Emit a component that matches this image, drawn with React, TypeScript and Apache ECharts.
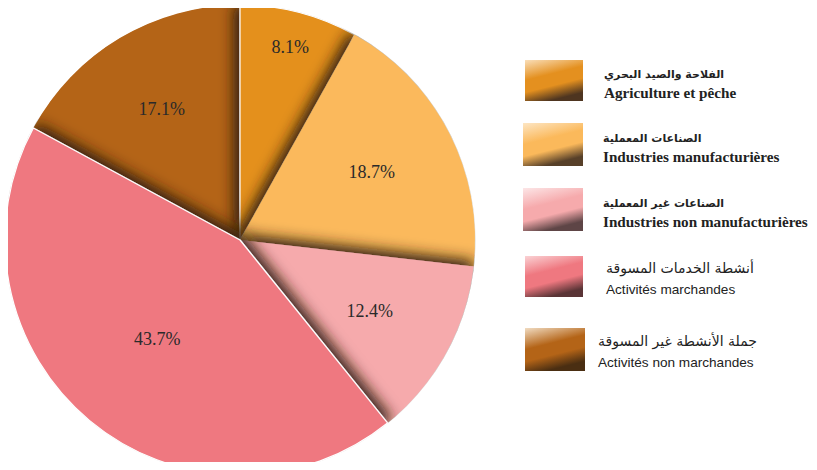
import React, { useEffect, useRef } from "react";
import * as echarts from "echarts";

const categories = [
  "Agriculture et pêche",
  "Industries manufacturières",
  "Industries non manufacturières",
  "Activités marchandes",
  "Activités non marchandes",
];
const arabicNames = [
  "الفلاحة والصيد البحري",
  "الصناعات المعملية",
  "الصناعات غير المعملية",
  "أنشطة الخدمات المسوقة",
  "جملة الأنشطة غير المسوقة",
];
const shares = [8.1, 18.7, 12.4, 43.7, 17.1];

// styling
const baseColors = ["#E4901F", "#FBB95B", "#F6AAAC", "#EF7880", "#B46417"];
const lightColors = ["#FBE3C2", "#FDE6C4", "#FCE6E7", "#FBD8DA", "#F1DCC2"];
const darkColors = ["#4E3520", "#574029", "#5E4546", "#5A3436", "#4A2E12"];
const labelRadius = [0.85, 0.63, 0.63, 0.55, 0.65];
const legendTops = [58, 123, 188, 254, 328];
const legendLefts = [523, 523, 523, 523, 525];
// the last slice is painted first so that its neighbours' shading falls on it
const drawOrder = [4, 0, 1, 2, 3];
const slicesWithBorder = [0, 3];
const SHADE_OFFSET = 6;
const SHADE_BLUR = 14;

const CX = 240;
const CY = 240;
const R = 235;

export default function App() {
  const ref = useRef<HTMLDivElement>(null);
  useEffect(() => {
    if (!ref.current) return;
    const chart = echarts.init(ref.current, null, { renderer: "svg" });
    const swatch = (i: number) =>
      new echarts.graphic.LinearGradient(0, 0, 0.35, 1, [
        { offset: 0, color: lightColors[i] },
        { offset: 0.45, color: baseColors[i] },
        { offset: 0.7, color: baseColors[i] },
        { offset: 1, color: darkColors[i] },
      ]);
    const legends = categories.map((name, i) => {
      const serifStyle = i < 3;
      return {
        data: [{ name, itemStyle: { color: swatch(i) } }],
        left: legendLefts[i],
        top: legendTops[i],
        padding: 0,
        itemWidth: 60,
        itemHeight: 43,
        icon: "rect",
        selectedMode: false,
        formatter: (n: string) => `{ar|${arabicNames[categories.indexOf(n)]}}\n{fr|${n}}`,
        textStyle: {
          padding: serifStyle ? [6, 0, 0, 15] : [4, 0, 0, i === 4 ? 8 : 17],
          rich: {
            ar: serifStyle
              ? { fontFamily: "DejaVu Sans", fontWeight: "bold", fontSize: 11, color: "#222", lineHeight: 18 }
              : { fontFamily: "DejaVu Sans", fontSize: 14, color: "#222", lineHeight: 21 },
            fr: serifStyle
              ? { fontFamily: "Liberation Serif", fontWeight: "bold", fontSize: 15.2, color: "#222", lineHeight: 18 }
              : { fontFamily: "Liberation Sans", fontSize: 13.6, color: "#222", lineHeight: 21 },
          },
        },
      };
    });
    const n = shares.length;
    const total = shares.reduce((a, b) => a + b, 0);
    const cum: number[] = [];
    shares.reduce((acc, v, i) => {
      cum[i] = acc;
      return acc + v;
    }, 0);
    const rank = (i: number) => drawOrder.indexOf(i);
    // shading offset of each slice: towards the neighbours that are painted before it
    const shadeOffset = (i: number) => {
      const a0 = ((cum[i] / total) * 360 * Math.PI) / 180;
      const a1 = (((cum[i] + shares[i]) / total) * 360 * Math.PI) / 180;
      let x = 0;
      let y = 0;
      const prev = (i - 1 + n) % n;
      const next = (i + 1) % n;
      if (rank(prev) < rank(i)) {
        x += -Math.cos(a0);
        y += -Math.sin(a0);
      }
      if (rank(next) < rank(i)) {
        x += Math.cos(a1);
        y += Math.sin(a1);
      }
      const len = Math.hypot(x, y);
      if (!len) return null;
      return [(x / len) * SHADE_OFFSET, (y / len) * SHADE_OFFSET];
    };
    const firstDrawn = drawOrder[0];
    const startAngle = 90 + (shares[firstDrawn] / total) * 360;
    chart.setOption({
      animation: false,
      legend: legends,
      series: [
        {
          type: "pie",
          z: 2,
          center: [CX, CY],
          radius: [0, R],
          startAngle,
          clockwise: true,
          data: drawOrder.map((i) => {
            const off = shadeOffset(i);
            return {
              name: categories[i],
              value: shares[i],
              itemStyle: {
                color: baseColors[i],
                borderColor: "#ffffff",
                borderWidth: slicesWithBorder.includes(i) ? 1.2 : 0,
                shadowBlur: off ? SHADE_BLUR : 0,
                shadowOffsetX: off ? off[0] : 0,
                shadowOffsetY: off ? off[1] : 0,
                shadowColor: "rgba(45,30,15,0.95)",
              },
            };
          }),
          label: {
            show: true,
            position: "inside",
            formatter: "{c}%",
            fontFamily: "Liberation Serif",
            fontSize: 18,
            color: "#2a2a2a",
          },
          labelLine: { show: false },
          labelLayout: (p: any) => {
            const r = p.labelRect;
            const cx = r.x + r.width / 2;
            const cy = r.y + r.height / 2;
            const dx = cx - CX;
            const dy = cy - CY;
            const len = Math.hypot(dx, dy) || 1;
            const target = labelRadius[drawOrder[p.dataIndex]] * R;
            return { dx: (dx / len) * (target - len), dy: (dy / len) * (target - len) };
          },
          emphasis: { disabled: true },
        },
        {
          // white surround that hides shading spilling outside the disc
          type: "pie",
          z: 3,
          silent: true,
          center: [CX, CY],
          radius: [R + 0.5, R + 30],
          label: { show: false },
          labelLine: { show: false },
          itemStyle: { color: "#ffffff" },
          data: [{ name: "", value: 1 }],
          emphasis: { disabled: true },
          tooltip: { show: false },
        },
      ],
    });
    return () => chart.dispose();
  }, []);
  return <div ref={ref} style={{ width: 817, height: 470, margin: -8 }} />;
}
